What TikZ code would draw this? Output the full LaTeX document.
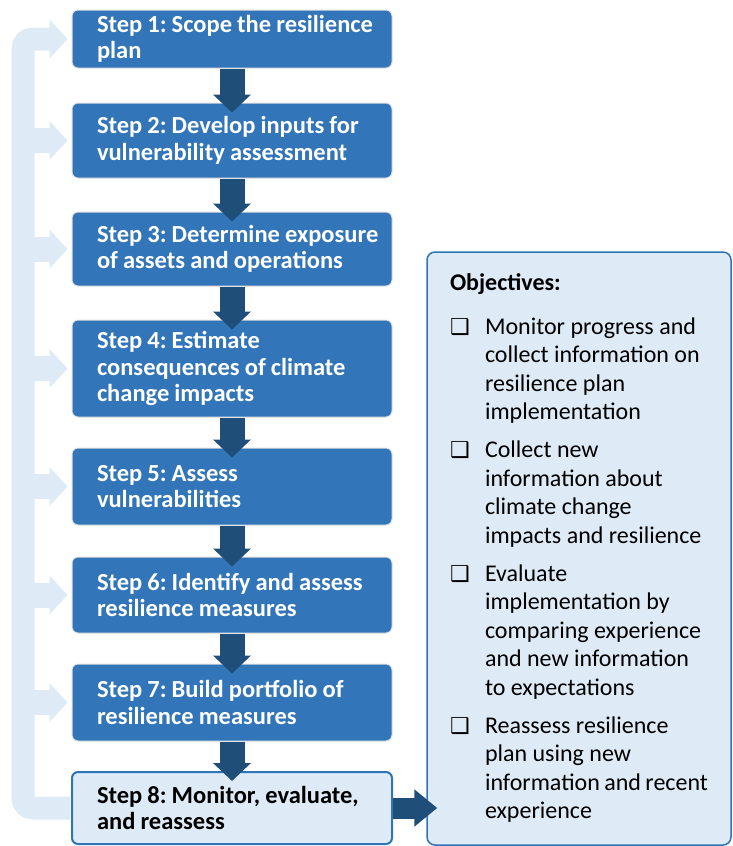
\documentclass[tikz,border=0pt]{standalone}
\usepackage{fontspec}
\setmainfont{Carlito}
\newfontfamily\symfont{DejaVu Sans}
\usetikzlibrary{positioning,calc,arrows.meta}
\definecolor{stepblue}{RGB}{50,117,184}
\definecolor{arrowblue}{RGB}{31,78,121}
\definecolor{paleblue}{RGB}{222,235,247}
\definecolor{lineblue}{RGB}{46,117,182}
\tikzstyle{stepbox} = [rectangle, rounded corners=6pt, minimum width=320pt, text width=310pt, inner xsep=5pt, align=left, fill=stepblue, draw=black!12, line width=1pt, text=white, font=\fontsize{24.5}{26.5}\selectfont\bfseries, execute at begin node={\leftskip=20pt\frenchspacing\spaceskip=0.21em\relax\hyphenpenalty=10000\relax}]
\tikzstyle{lastbox} = [stepbox, fill=paleblue, draw=lineblue, line width=2pt, text=black]
\tikzstyle{objbox} = [rectangle, rounded corners=8pt, minimum width=304pt, minimum height=593pt, inner xsep=23pt, inner ysep=21.5pt, fill=paleblue, draw=lineblue, line width=1.5pt, font=\fontsize{24}{28.5}\selectfont]
\tikzstyle{arrow} = [arrowblue, line width=25pt, -{Triangle[length=18pt,width=37pt]}, shorten >=-10pt]
\tikzstyle{loopband} = [paleblue, line width=23pt, rounded corners=10pt, -{Triangle[length=18pt,width=38pt]}, shorten >=4pt]
\tikzstyle{branch} = [paleblue, line width=25pt, -{Triangle[length=18pt,width=38pt]}, shorten >=4pt]
\newcommand{\chkbox}{{\symfont\fontsize{22}{22}\selectfont ❑}}
\newcommand{\objitem}[1]{\par\vspace{9.5pt}\noindent\hangindent=35pt\hangafter=1\makebox[35pt][l]{\chkbox}#1\par}

\begin{document}
\begin{tikzpicture}[x=1pt, y=-1pt, node distance=34pt]
\useasboundingbox (0,0) rectangle (732,846);

\node (s1) [stepbox, minimum height=58pt] at (232,39) {Step 1: Scope the resilience\\plan};
\node (s2) [stepbox, minimum height=75pt, below=34pt of s1] {Step 2: Develop inputs for\\vulnerability assessment};
\node (s3) [stepbox, minimum height=74pt, below=33pt of s2] {Step 3: Determine exposure\\of assets and operations};
\node (s4) [stepbox, minimum height=97pt, below=33pt of s3] {Step 4: Estimate\\consequences of climate\\change impacts};
\node (s5) [stepbox, minimum height=77pt, below=30pt of s4] {Step 5: Assess\\vulnerabilities};
\node (s6) [stepbox, minimum height=76pt, below=31pt of s5] {Step 6: Identify and assess\\resilience measures};
\node (s7) [stepbox, minimum height=77pt, below=30pt of s6] {Step 7: Build portfolio of\\resilience measures};
\node (s8) [lastbox, minimum height=72pt, below=29.5pt of s7] {Step 8: Monitor, evaluate,\\and reassess};

\node (obj) [objbox] at (579,548.5) {\parbox[c][550pt][t]{258pt}{%
{\bfseries Objectives:}\par\vspace{6pt}
\objitem{Monitor progress and\\collect information on\\resilience plan\\implementation}
\objitem{Collect new\\information about\\climate change\\impacts and resilience}
\objitem{Evaluate\\implementation by\\comparing experience\\and new information\\to expectations}
\objitem{Reassess resilience\\plan using new\\information and recent\\experience}}};

%arrows
\foreach \a/\b in {s1/s2,s2/s3,s3/s4,s4/s5,s5/s6,s6/s7,s7/s8}
  \draw [arrow] (\a.south) -- (\b.north);
\draw [arrow, line width=21pt, -{Triangle[length=23pt,width=36pt]}, shorten >=-11pt] (s8.east) -- (s8.east -| obj.west);

%feedback loop
\draw [loopband, shorten <=1pt] (s8.west) -- ++(-48,0) |- (s1.west);
\foreach \s in {s2,s3,s4,s5,s6,s7}
  \draw [branch] ($(\s.west)+(-48,0)$) -- (\s.west);

\end{tikzpicture}
\end{document}
